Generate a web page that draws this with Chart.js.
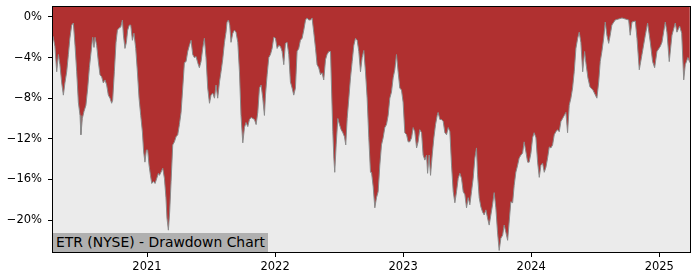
<!DOCTYPE html>
<html>
<head>
<meta charset="utf-8">
<script src="https://cdn.jsdelivr.net/npm/chart.js@4/dist/chart.umd.min.js"></script>
<style>
  html, body { margin: 0; padding: 0; background: #fff; }
  .wrap { position: relative; width: 700px; height: 280px; }
  .tag {
    position: absolute; left: 53px; top: 233px; height: 19px; line-height: 19px;
    padding: 0 3px; background: #b0b0b0; color: #000;
    font-family: 'DejaVu Sans', sans-serif; font-size: 13.9px; white-space: nowrap;
  }
</style>
</head>
<body>
<div class="wrap">
  <canvas id="ddChart" width="700" height="280"></canvas>
  <div class="tag">ETR (NYSE) - Drawdown Chart</div>
</div>
<script>
/* Drawdown chart, x in decimal years */
const years = [
  2020.266, 2020.281, 2020.295, 2020.308, 2020.320, 2020.334, 2020.347, 2020.359, 2020.373, 2020.386,
  2020.398, 2020.412, 2020.425, 2020.438, 2020.451, 2020.464, 2020.477, 2020.484, 2020.495, 2020.508,
  2020.523, 2020.537, 2020.550, 2020.562, 2020.576, 2020.586, 2020.594, 2020.607, 2020.620, 2020.633,
  2020.646, 2020.659, 2020.672, 2020.685, 2020.698, 2020.711, 2020.724, 2020.732, 2020.745, 2020.758,
  2020.769, 2020.781, 2020.795, 2020.808, 2020.816, 2020.828, 2020.839, 2020.849, 2020.862, 2020.873,
  2020.886, 2020.898, 2020.912, 2020.925, 2020.938, 2020.951, 2020.964, 2020.974, 2020.984, 2020.995,
  2021.005, 2021.016, 2021.027, 2021.037, 2021.050, 2021.063, 2021.076, 2021.089, 2021.097, 2021.109,
  2021.123, 2021.136, 2021.148, 2021.156, 2021.167, 2021.177, 2021.188, 2021.201, 2021.214, 2021.227,
  2021.240, 2021.253, 2021.266, 2021.279, 2021.292, 2021.305, 2021.318, 2021.331, 2021.344, 2021.357,
  2021.370, 2021.383, 2021.396, 2021.409, 2021.422, 2021.435, 2021.448, 2021.461, 2021.474, 2021.488,
  2021.500, 2021.513, 2021.527, 2021.539, 2021.552, 2021.566, 2021.578, 2021.591, 2021.605, 2021.617,
  2021.625, 2021.636, 2021.646, 2021.656, 2021.670, 2021.683, 2021.695, 2021.709, 2021.722, 2021.734,
  2021.748, 2021.761, 2021.773, 2021.787, 2021.800, 2021.813, 2021.826, 2021.839, 2021.852, 2021.865,
  2021.878, 2021.891, 2021.904, 2021.917, 2021.925, 2021.938, 2021.951, 2021.964, 2021.977, 2021.990,
  2022.003, 2022.016, 2022.029, 2022.042, 2022.055, 2022.068, 2022.081, 2022.094, 2022.107, 2022.120,
  2022.133, 2022.146, 2022.159, 2022.172, 2022.185, 2022.198, 2022.211, 2022.224, 2022.238, 2022.250,
  2022.263, 2022.277, 2022.289, 2022.302, 2022.316, 2022.328, 2022.341, 2022.355, 2022.367, 2022.380,
  2022.394, 2022.406, 2022.420, 2022.433, 2022.441, 2022.451, 2022.459, 2022.466, 2022.477, 2022.490,
  2022.503, 2022.516, 2022.529, 2022.542, 2022.552, 2022.563, 2022.576, 2022.589, 2022.602, 2022.615,
  2022.628, 2022.641, 2022.654, 2022.667, 2022.680, 2022.693, 2022.706, 2022.719, 2022.732, 2022.745,
  2022.753, 2022.766, 2022.779, 2022.792, 2022.805, 2022.818, 2022.831, 2022.844, 2022.857, 2022.870,
  2022.883, 2022.896, 2022.909, 2022.922, 2022.935, 2022.948, 2022.961, 2022.974, 2022.987, 2023.000,
  2023.013, 2023.027, 2023.039, 2023.052, 2023.066, 2023.078, 2023.091, 2023.105, 2023.117, 2023.130,
  2023.144, 2023.156, 2023.170, 2023.183, 2023.191, 2023.203, 2023.214, 2023.227, 2023.240, 2023.253,
  2023.266, 2023.273, 2023.287, 2023.300, 2023.313, 2023.326, 2023.339, 2023.352, 2023.365, 2023.378,
  2023.391, 2023.404, 2023.417, 2023.430, 2023.443, 2023.456, 2023.469, 2023.482, 2023.495, 2023.508,
  2023.521, 2023.534, 2023.547, 2023.560, 2023.573, 2023.581, 2023.594, 2023.607, 2023.620, 2023.633,
  2023.646, 2023.659, 2023.672, 2023.685, 2023.698, 2023.711, 2023.724, 2023.737, 2023.750, 2023.763,
  2023.777, 2023.789, 2023.802, 2023.816, 2023.828, 2023.841, 2023.855, 2023.867, 2023.880, 2023.894,
  2023.906, 2023.920, 2023.933, 2023.945, 2023.959, 2023.972, 2023.984, 2023.998, 2024.011, 2024.023,
  2024.037, 2024.050, 2024.063, 2024.076, 2024.089, 2024.102, 2024.115, 2024.128, 2024.141, 2024.154,
  2024.167, 2024.180, 2024.193, 2024.206, 2024.219, 2024.232, 2024.245, 2024.258, 2024.271, 2024.284,
  2024.297, 2024.310, 2024.323, 2024.336, 2024.349, 2024.363, 2024.375, 2024.388, 2024.402, 2024.417,
  2024.427, 2024.443, 2024.459, 2024.482, 2024.513, 2024.527, 2024.539, 2024.552, 2024.566, 2024.578,
  2024.591, 2024.605, 2024.617, 2024.630, 2024.656, 2024.683, 2024.709, 2024.734, 2024.761, 2024.773,
  2024.787, 2024.813, 2024.826, 2024.844, 2024.865, 2024.891, 2024.909, 2024.930, 2024.948, 2024.964,
  2024.982, 2025.008, 2025.021, 2025.047, 2025.060, 2025.078, 2025.099, 2025.125, 2025.138, 2025.159,
  2025.175, 2025.191, 2025.203, 2025.224, 2025.239
];

const drawdown = [
  -1.9, -2.9, -5.4, -3.7, -4.7, -6.5, -7.7, -6.5, -5.4, -3.7,
  -2.1, -0.8, -0.6, -2.8, -5.4, -8.4, -9.7, -11.6, -10.0, -9.3,
  -8.7, -7.0, -5.0, -3.6, -2.0, -3.0, -2.0, -2.8, -4.4, -5.7,
  -5.9, -6.5, -6.2, -6.7, -7.7, -8.0, -8.5, -8.2, -5.4, -2.5,
  -1.3, -1.1, -1.0, -0.3, -1.8, -3.1, -2.5, -1.3, -0.8, -0.8,
  -2.3, -1.6, -3.1, -5.4, -8.0, -9.7, -11.3, -13.3, -14.3, -13.1,
  -13.1, -14.6, -15.6, -16.4, -16.2, -16.4, -15.9, -15.4, -15.6, -15.3,
  -14.9, -15.9, -17.8, -19.8, -21.0, -19.2, -16.2, -12.6, -12.3, -11.8,
  -11.6, -10.6, -9.4, -7.0, -4.5, -4.4, -3.4, -2.8, -2.3, -3.7,
  -4.0, -3.9, -4.5, -5.0, -4.4, -3.1, -2.1, -4.0, -7.0, -8.5,
  -7.7, -7.5, -8.0, -6.7, -8.0, -6.4, -5.4, -4.2, -2.5, -1.5,
  -0.5, -0.3, -0.8, -2.5, -1.6, -1.3, -1.5, -2.5, -5.4, -9.7,
  -12.4, -10.9, -10.4, -10.8, -10.1, -9.9, -10.0, -10.1, -10.6, -9.4,
  -7.0, -6.7, -8.0, -9.7, -7.7, -5.7, -4.0, -3.7, -3.1, -2.0,
  -2.1, -3.1, -2.8, -2.9, -3.4, -4.7, -2.6, -2.5, -3.7, -6.4,
  -7.0, -7.7, -7.0, -3.4, -3.1, -2.3, -2.1, -1.3, -0.3, -0.1,
  -0.3, -0.3, -0.1, -1.5, -3.1, -4.7, -5.0, -5.7, -5.5, -6.2,
  -4.2, -3.7, -3.4, -3.4, -7.0, -11.3, -13.9, -15.3, -12.6, -10.0,
  -10.6, -11.1, -11.4, -11.8, -12.6, -10.0, -8.0, -6.0, -4.4, -2.8,
  -2.1, -2.3, -3.4, -5.4, -4.0, -3.3, -5.4, -8.0, -11.9, -15.3,
  -15.3, -16.7, -18.8, -17.8, -17.2, -14.6, -12.6, -11.9, -10.9, -10.6,
  -9.7, -8.0, -7.4, -6.0, -5.2, -3.7, -5.4, -7.0, -7.2, -8.4,
  -11.4, -11.6, -12.3, -12.3, -11.9, -10.9, -11.3, -12.9, -12.3, -11.1,
  -11.4, -13.6, -14.1, -13.6, -15.4, -13.6, -15.6, -13.6, -11.9, -10.6,
  -9.7, -9.4, -10.1, -10.1, -10.3, -11.4, -11.6, -10.9, -11.3, -14.6,
  -17.2, -18.3, -17.2, -15.9, -15.4, -15.9, -17.2, -17.5, -18.8, -17.8,
  -18.5, -17.2, -15.9, -13.9, -12.9, -15.5, -17.8, -18.7, -19.2, -19.5,
  -19.0, -19.8, -20.5, -19.5, -18.5, -17.3, -18.8, -21.2, -23.0, -21.8,
  -21.5, -20.5, -21.2, -22.0, -20.2, -18.2, -18.3, -16.6, -15.3, -14.6,
  -13.9, -13.6, -13.4, -12.3, -13.3, -14.3, -14.3, -13.4, -11.9, -11.4,
  -11.9, -14.3, -15.8, -14.6, -14.4, -15.3, -14.8, -13.9, -12.8, -12.9,
  -12.6, -11.6, -11.3, -11.1, -11.3, -10.3, -10.0, -9.7, -9.4, -11.4,
  -8.7, -8.0, -7.0, -5.4, -3.1, -2.1, -1.5, -2.5, -5.4, -3.4,
  -4.5, -6.0, -6.9, -7.2, -8.0, -6.4, -4.4, -3.4, -2.1, -0.5,
  -1.8, -2.6, -1.8, -0.8, -0.3, -0.2, -0.1, -0.2, -0.3, -1.8,
  -0.5, -0.4, -2.1, -5.2, -3.7, -1.8, -0.6, -2.5, -4.4, -5.0,
  -3.4, -2.9, -2.5, -0.5, -1.5, -4.4, -1.8, -0.6, -1.5, -0.9,
  -1.6, -6.2, -4.7, -4.0, -4.5
];

const yearTicks = [2021, 2022, 2023, 2024, 2025];
const pctTicks = [-20, -16, -12, -8, -4, 0];

const TICK_FONT = { family: "'DejaVu Sans'", size: 11.5 };

const plotFrame = {
  id: 'plotFrame',
  beforeDatasetsDraw(chart) {
    const { ctx, chartArea: a } = chart;
    ctx.save();
    ctx.fillStyle = '#ebebeb';
    ctx.fillRect(a.left, a.top, a.right - a.left, a.bottom - a.top);
    ctx.restore();
  },
  afterDraw(chart) {
    const { ctx, chartArea: a } = chart;
    ctx.save();
    ctx.strokeStyle = '#000';
    ctx.lineWidth = 1;
    ctx.strokeRect(Math.round(a.left) - 0.5, Math.round(a.top) - 0.5,
      Math.round(a.right - a.left) + 1, Math.round(a.bottom - a.top) + 1);
    ctx.restore();
  }
};

new Chart(document.getElementById('ddChart').getContext('2d'), {
  type: 'line',
  data: {
    datasets: [{
      data: years.map((x, i) => ({ x, y: drawdown[i] })),
      borderColor: '#8a8a8a',
      borderWidth: 1,
      backgroundColor: '#b03030',
      fill: 'end',
      pointRadius: 0,
      tension: 0,
    }],
  },
  options: {
    responsive: false,
    animation: false,
    layout: { padding: { left: 0, right: 10, top: 7, bottom: 0 } },
    plugins: { legend: { display: false }, tooltip: { enabled: false } },
    scales: {
      x: {
        type: 'linear',
        min: 2020.266,
        max: 2025.24,
        afterBuildTicks: s => { s.ticks = yearTicks.map(v => ({ value: v })); },
        afterFit: s => { s.height = 28; s.paddingLeft = 0; s.paddingRight = 0; },
        ticks: {
          autoSkip: false, maxRotation: 0, padding: 3, color: '#000', font: TICK_FONT,
          callback: v => String(v),
        },
        grid: { display: true, drawOnChartArea: false, drawTicks: true, tickLength: 5, color: '#000' },
        border: { display: false },
      },
      y: {
        min: -23.15,
        max: 0.98,
        afterBuildTicks: s => { s.ticks = pctTicks.map(v => ({ value: v })); },
        afterFit: s => { s.width = 53; s.paddingTop = 0; s.paddingBottom = 0; },
        ticks: {
          padding: 6, color: '#000', font: TICK_FONT,
          callback: v => (v < 0 ? '\u2212' + Math.abs(v) : v) + '%',
        },
        grid: { display: true, drawOnChartArea: false, drawTicks: true, tickLength: 5, color: '#000' },
        border: { display: false },
      },
    },
  },
  plugins: [plotFrame],
});
</script>
</body>
</html>
